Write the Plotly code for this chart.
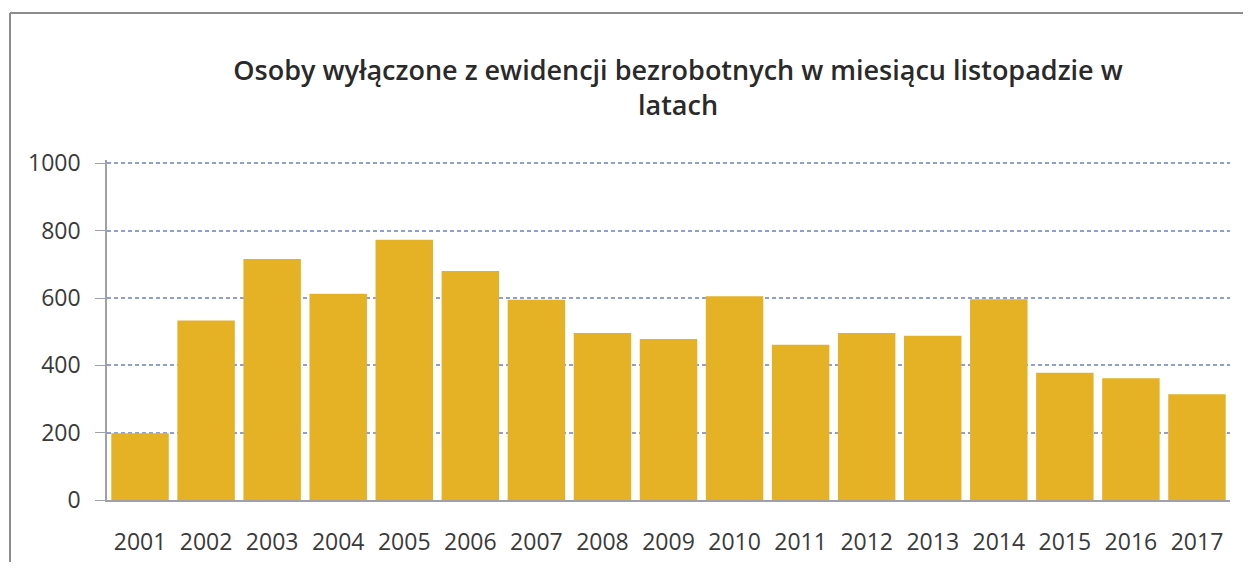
import plotly.graph_objects as go

years = [str(y) for y in range(2001, 2018)]
counts = [198, 533, 716, 613, 773, 680, 595, 496, 478, 605, 461, 496, 488, 596, 378, 362, 314]

title = "Osoby wyłączone z ewidencji bezrobotnych w miesiącu listopadzie w<br>latach"

# page body adds an 8px offset, so the figure is a bit smaller than the window
W, H = 1235, 554
ML, MR, MT, MB = 99, 13, 152, 62
PW, PH = W - ML - MR, H - MT - MB

trace = go.Bar(
    x=years,
    y=counts,
    marker=dict(color="#E5B226", line=dict(width=0)),
    width=0.87,
)

tick_font = dict(family="Open Sans", size=23, color="#3a3a3a")

layout = go.Layout(
    title=dict(
        text=title,
        x=670 / W, xanchor="center",
        y=1 - 72 / H, yanchor="top",
        font=dict(family="Open Sans", size=27, color="#2a2a2a", weight=600),
    ),
    xaxis=dict(
        showline=True, linecolor="#a0a0aa", linewidth=1.5,
        ticks="", showgrid=False,
        ticklabelstandoff=21,
        tickfont=tick_font,
        automargin=False,
    ),
    yaxis=dict(
        range=[0, 1010], tickvals=[0, 200, 400, 600, 800, 1000],
        showline=True, linecolor="#a0a0aa", linewidth=1.5,
        ticks="outside", ticklen=10, tickcolor="#a0a0aa",
        ticklabelstandoff=10,
        showgrid=True, gridcolor="#8f9fd6", gridwidth=2, griddash="4px,3px",
        zeroline=False,
        tickfont=tick_font,
        automargin=False,
    ),
    bargap=0.13,
    width=W, height=H,
    margin=dict(l=ML, r=MR, t=MT, b=MB),
    plot_bgcolor="white",
    paper_bgcolor="white",
    showlegend=False,
    shapes=[
        dict(type="line", xref="paper", yref="paper",
             x0=(2 - ML) / PW, x1=(W - ML) / PW,
             y0=(H - MB - 5) / PH, y1=(H - MB - 5) / PH,
             line=dict(color="#8c8c8c", width=2)),
        dict(type="line", xref="paper", yref="paper",
             x0=(2 - ML) / PW, x1=(2 - ML) / PW,
             y0=(H - MB - 5) / PH, y1=-(MB + 20) / PH,
             line=dict(color="#8c8c8c", width=2)),
    ],
)

fig = go.Figure(data=[trace], layout=layout)
fig.write_html("out.html")
